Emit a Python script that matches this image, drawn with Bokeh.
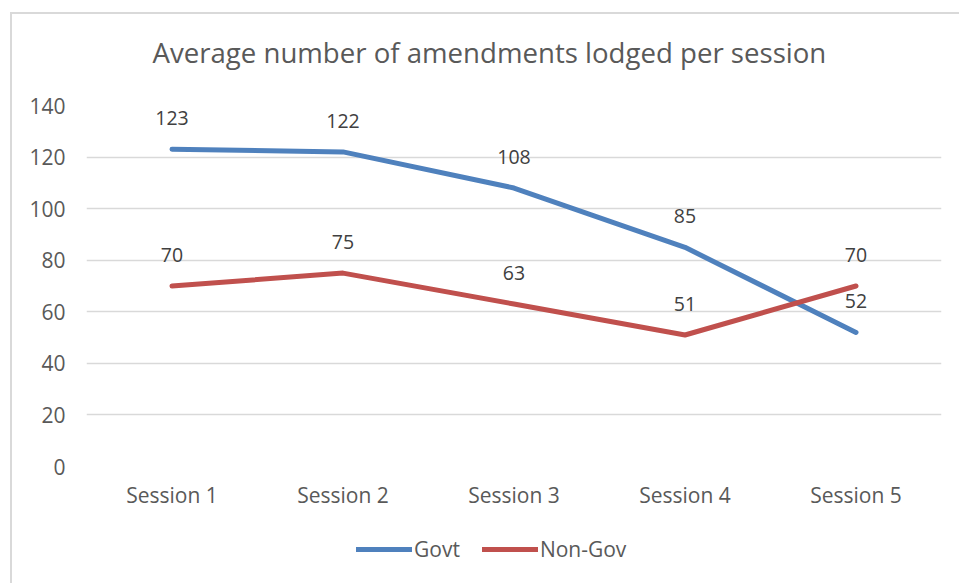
from bokeh.plotting import figure
from bokeh.layouts import column
from bokeh.models import ColumnDataSource, Legend, LegendItem, Label, FactorRange, Range1d
from bokeh.core.properties import value
from bokeh.embed import file_html
from bokeh.resources import INLINE

sessions = ["Session 1", "Session 2", "Session 3", "Session 4", "Session 5"]
govt = [123, 122, 108, 85, 52]
non_gov = [70, 75, 63, 51, 70]
y_ticks = [0, 20, 40, 60, 80, 100, 120, 140]
title_text = "Average number of amendments lodged per session"
series_names = ["Govt", "Non-Gov"]

FONT = "Open Sans"
TEXT_GREY = "#595959"
BLUE = "#4F81BD"
RED = "#C0504D"
COLORS = [BLUE, RED]
W = 947
FRAME_W = 855  # plot-area width; the column lines every strip's frame up with it

src = ColumnDataSource(dict(x=sessions, govt=govt, non_gov=non_gov,
                            govt_lbl=[str(v) for v in govt],
                            non_gov_lbl=[str(v) for v in non_gov]))


def strip(height, x_range, y_range):
    """A bare strip without axes or grid."""
    f = figure(width=W, height=height, x_range=x_range, y_range=y_range,
               x_axis_location=None, y_axis_location=None,
               output_backend="svg", toolbar_location=None,
               min_border_top=0, min_border_bottom=0,
               min_border_left=74, min_border_right=18)
    f.grid.visible = False
    f.outline_line_color = None
    return f


# --- title strip (1 unit = 1 pixel) ---
head = strip(71, Range1d(0, FRAME_W), Range1d(0, 71))
head.add_layout(Label(x=66, y=34, text=title_text, text_align="left", text_baseline="middle",
                      text_font=FONT, text_font_size="27.6px", text_color=TEXT_GREY))

# --- main chart ---
p = figure(
    width=W, height=439,
    x_range=FactorRange(*sessions, range_padding=0),
    y_range=Range1d(0, 140),
    output_backend="svg", toolbar_location=None,
    min_border_left=74, min_border_right=18,
    min_border_top=20, min_border_bottom=58,
)
p.outline_line_color = None
p.xgrid.grid_line_color = None
p.ygrid.grid_line_color = "#d9d9d9"
p.ygrid.grid_line_width = 1.3
p.yaxis.ticker = y_ticks

for ax in (p.xaxis, p.yaxis):
    ax.axis_line_color = None
    ax.major_tick_line_color = None
    ax.minor_tick_line_color = None
    ax.major_tick_out = 0
    ax.minor_tick_out = 0
    ax.major_label_text_font = FONT
    ax.major_label_text_font_size = "21px"
    ax.major_label_text_color = TEXT_GREY
p.yaxis.major_label_standoff = 21
p.xaxis.major_label_standoff = 14

for ycol, c in zip(("govt", "non_gov"), COLORS):
    p.line("x", ycol, source=src, line_color=c, line_width=5, line_cap="round", line_join="round")
    p.text("x", ycol, text=ycol + "_lbl", source=src, text_align="center", text_baseline="middle",
           y_offset=-31, text_font=value(FONT), text_font_size="19.5px", text_color="#404040")

# --- legend strip: legend keys come from hidden copies of the two series ---
foot = strip(59, FactorRange(*sessions, range_padding=0), Range1d(0, 59))
keys = []
for ycol, c in zip(("govt", "non_gov"), COLORS):
    keys.append(foot.line("x", ycol, source=src, line_color=c, line_width=5,
                          line_cap="round", visible=False))
legend = Legend(items=[LegendItem(label=n, renderers=[r]) for n, r in zip(series_names, keys)],
                orientation="horizontal", location=(270, 20),
                label_text_font=FONT, label_text_font_size="21px", label_text_color=TEXT_GREY,
                glyph_width=56, glyph_height=24, label_height=24, label_standoff=2, spacing=22,
                border_line_color=None, background_fill_alpha=0, padding=0, margin=0,
                inactive_fill_alpha=0)
foot.add_layout(legend, "center")

page = column(head, p, foot, spacing=0)
page.margin = (12, 0, 0, 10)
page.styles = {"border-left": "2px solid #d9d9d9",
               "border-top": "2px solid #d9d9d9"}

open("out.html", "w").write(file_html(page, INLINE))
